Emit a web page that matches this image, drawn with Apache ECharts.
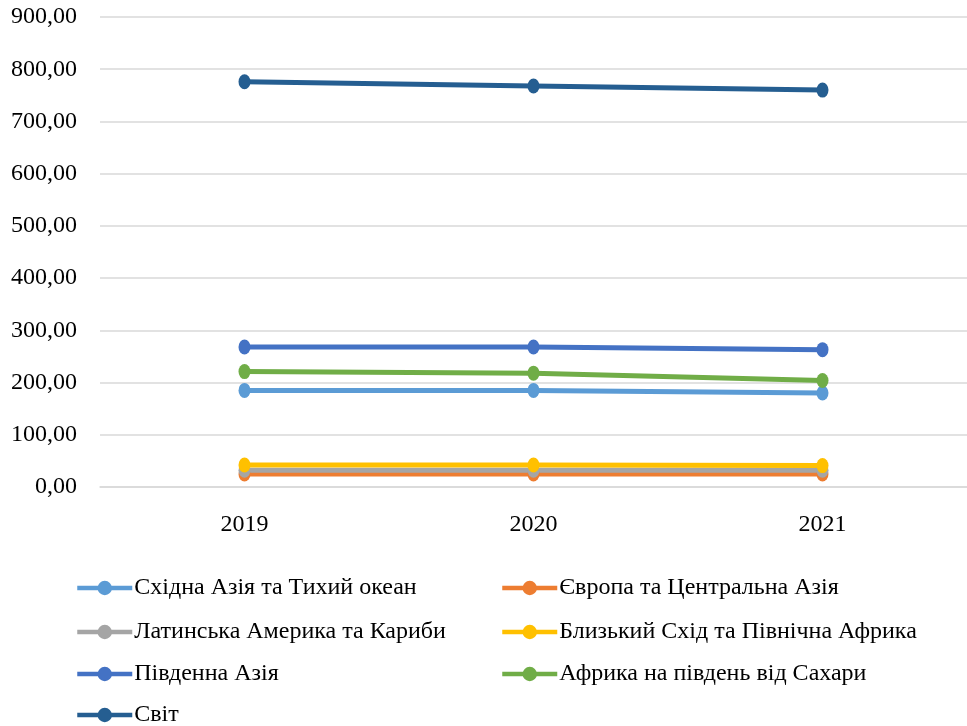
<!DOCTYPE html>
<html>
<head>
<meta charset="utf-8">
<script src="https://cdn.jsdelivr.net/npm/echarts@6/dist/echarts.min.js"></script>
<style>html,body{margin:0;padding:0;background:#fff;}#c{width:967px;height:726px;}</style>
</head>
<body>
<div id="c"></div>
<script>
var categories = ['2019', '2020', '2021'];
var seriesNames = [
  'Східна Азія та Тихий океан',
  'Європа та Центральна Азія',
  'Латинська Америка та Кариби',
  'Близький Схід та Північна Африка',
  'Південна Азія',
  'Африка на південь від Сахари',
  'Світ'
];
var eastAsia = [185, 185, 180];
var europe = [25, 25, 25];
var latinAmerica = [32, 32, 32];
var middleEast = [42, 42, 41];
var southAsia = [268, 268, 263];
var subSaharan = [221, 218, 204];
var world = [776, 768, 760];
var colors = ['#5B9BD5', '#ED7D31', '#A5A5A5', '#FFC000', '#4472C4', '#70AD47', '#255E91'];
var allData = [eastAsia, europe, latinAmerica, middleEast, southAsia, subSaharan, world];

var font = 'Liberation Serif';
var series = seriesNames.map(function (n, i) {
  return {
    name: n,
    type: 'line',
    data: allData[i],
    symbol: 'circle',
    symbolSize: [12, 15],
    lineStyle: { width: 5, color: colors[i] },
    itemStyle: { color: colors[i] },
    emphasis: { disabled: true },
    animation: false
  };
});

// legend layout: two columns
var legendLeft = [75, 500, 75, 500, 75, 500, 75];
var legendCenterY = [589, 589, 633, 633, 675, 675, 716];
var legends = seriesNames.map(function (n, i) {
  return {
    data: [n],
    selectedMode: false,
    left: legendLeft[i],
    top: legendCenterY[i] - 13,
    padding: 0,
    itemWidth: 55,
    itemHeight: 18,
    lineStyle: { width: 4.5 },
    textStyle: { fontFamily: font, fontSize: 24, color: '#000', padding: [0, 0, 0, -3] }
  };
});

var chart = echarts.init(document.getElementById('c'), null, { renderer: 'canvas' });
chart.setOption({
  animation: false,
  color: colors,
  grid: { left: 100, right: -7, top: 17, bottom: 239, containLabel: false },
  legend: legends,
  xAxis: {
    type: 'category',
    data: categories,
    boundaryGap: true,
    axisLine: { lineStyle: { color: '#d9d9d9', width: 1.5 } },
    axisTick: { show: false },
    axisLabel: { fontFamily: font, fontSize: 24, color: '#000', margin: 26 }
  },
  yAxis: {
    type: 'value',
    min: 0,
    max: 900,
    interval: 100,
    axisLine: { show: false },
    axisTick: { show: false },
    splitLine: { lineStyle: { color: '#d9d9d9', width: 1.5 } },
    axisLabel: {
      fontFamily: font, fontSize: 24, color: '#000', margin: 23,
      formatter: function (v) { return v.toFixed(2).replace('.', ','); }
    }
  },
  series: series
});
</script>
</body>
</html>
